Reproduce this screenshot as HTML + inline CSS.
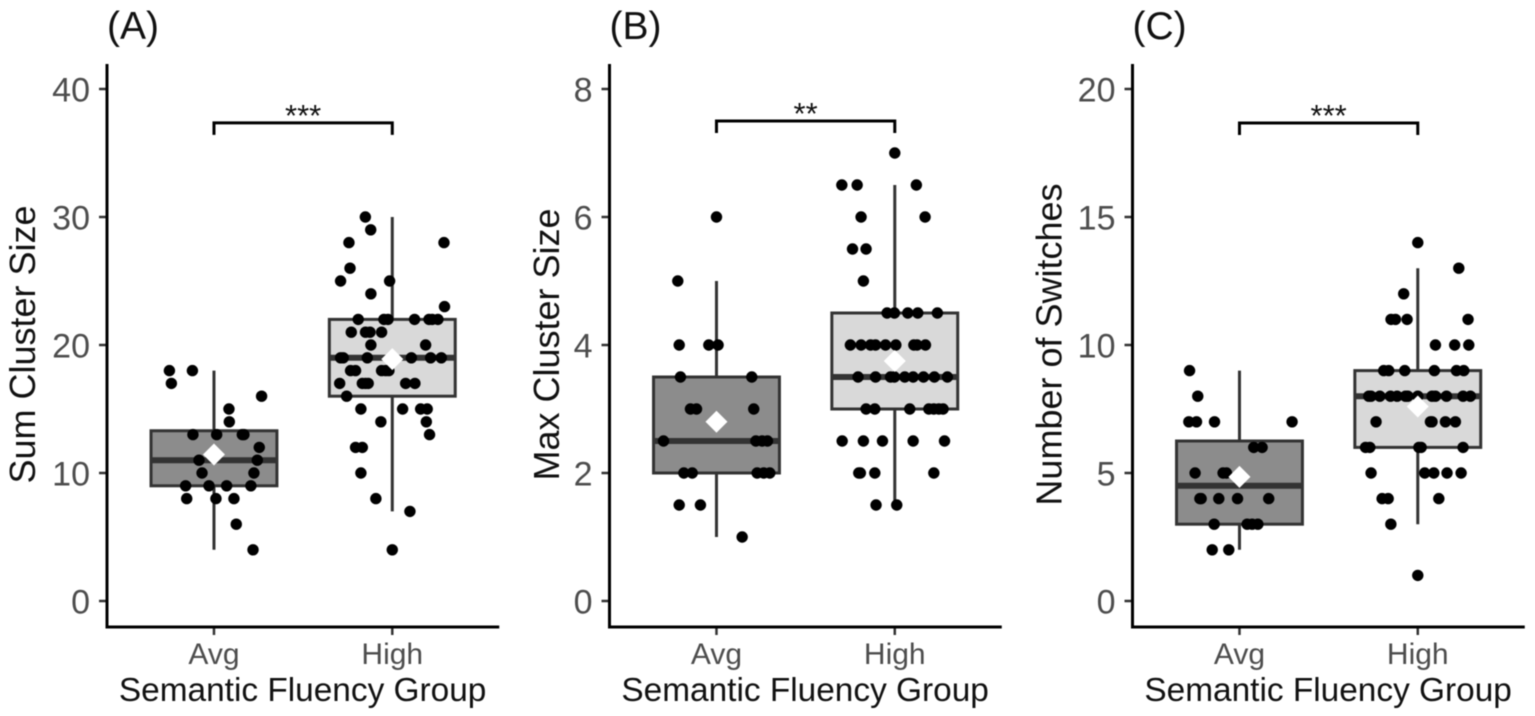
<!DOCTYPE html>
<html lang="en">
<head>
<meta charset="utf-8">
<title>Semantic Fluency Group Comparisons</title>
<style>
html,body{margin:0;padding:0;background:#fff;width:1535px;height:716px;overflow:hidden}
svg{display:block;filter:blur(0.45px)}
text{font-family:"Liberation Sans",Arial,sans-serif}
</style>
</head>
<body>
<svg id="figure" width="1535" height="716" viewBox="0 0 1535 716" xmlns="http://www.w3.org/2000/svg"></svg>
<script>
// Shared categories
const groupLabels = ['Avg', 'High'];
const xAxisTitle = 'Semantic Fluency Group';

// Panel A: Sum Cluster Size
const aTicks = [0, 10, 20, 30, 40];
const aAvgValues = [18,18,17,16,15,14,13,13,13,13,12,11,11,10,10,9,9,9,9,8,8,8,6,4];
const aAvgJitter = [-.250,-.121,-.239,.267,.084,.086,-.118,.015,.159,.168,.254,-.084,.243,-.067,.224,-.159,-.028,.071,.207,-.153,.011,.112,.125,.219];
const aHighValues = [30,29,28,28,26,25,25,24,23,22,22,22,22,22,22,22,21,21,21,21,20,20,19,19,19,19,19,19,18,18,18,18,18,17,17,17,17,17,17,16,15,15,15,15,14,14,13,12,12,10,8,7,4];
const aHighJitter = [-.151,-.121,-.243,.290,-.237,-.290,-.015,-.120,.293,-.191,-.047,-.024,.125,.206,.224,.256,-.230,-.150,-.125,-.060,-.120,.187,-.290,-.275,-.140,.107,.215,.275,-.234,-.206,-.060,-.037,-.019,-.295,-.168,-.150,-.135,.075,.127,-.256,-.176,.058,.159,.196,-.064,.191,.209,-.206,-.168,-.176,-.092,.099,0];
const aAvgBox = [4, 9, 11, 13.3, 18];
const aHighBox = [7, 16, 19, 22, 30];
const aMeans = [11.45, 18.9];

// Panel B: Max Cluster Size
const bTicks = [0, 2, 4, 6, 8];
const bAvgValues = [6,5,4,4,4,3.5,3.5,3,3,3,2.5,2.5,2.5,2.5,2,2,2,2,2,1.5,1.5,1];
const bAvgJitter = [0,-.217,-.209,-.043,.009,-.202,.198,-.146,-.112,.209,-.297,.221,.256,.286,-.183,-.136,.228,.265,.299,-.209,-.090,.144];
const bHighValues = [7,6.5,6.5,6.5,6,6,5.5,5.5,5,4.5,4.5,4.5,4.5,4.5,4,4,4,4,4,4,4,4,4,3.5,3.5,3.5,3.5,3.5,3.5,3.5,3.5,3.5,3,3,3,3,3,3,3,2.5,2.5,2.5,2.5,2.5,2,2,2,2,1.5,1.5];
const bHighJitter = [0,-.297,-.211,.121,-.189,.170,-.237,-.161,-.176,-.043,-.002,.073,.129,.239,-.249,-.189,-.136,-.108,-.052,.006,.107,.125,.172,-.206,-.108,-.024,-.002,.056,.103,.161,.222,.295,-.161,-.112,.084,.191,.219,.247,.271,-.295,-.176,-.069,.103,.279,-.202,-.193,-.112,.219,-.105,.011];
const bAvgBox = [1, 2, 2.5, 3.5, 5];
const bHighBox = [1.5, 3, 3.5, 4.5, 6.5];
const bMeans = [2.8, 3.75];

// Panel C: Number of Switches
const cTicks = [0, 5, 10, 15, 20];
const cAvgValues = [9,8,7,7,7,7,6,6,5,5,5,4,4,4,4,4,3,3,3,3,2,2];
const cAvgJitter = [-.280,-.234,-.284,-.241,-.140,.295,.080,.127,-.249,-.092,-.073,-.222,-.215,-.116,-.011,.164,-.142,.043,.071,.103,-.153,-.060];
const cHighValues = [14,13,12,11,11,11,11,10,10,10,9,9,9,9,9,9,8,8,8,8,8,8,8,8,8,8,8,8,8,7,7,7,7,7,6,6,6,6,6,5,5,5,5,5,4,4,4,3,1];
const cHighJitter = [0,.230,-.079,-.150,-.125,-.060,.282,.099,.207,.286,-.191,-.163,-.073,.093,.217,.258,-.275,-.262,-.213,-.153,-.116,-.069,-.056,0,.080,.099,.161,.254,.295,-.234,.071,.080,.155,.211,-.293,-.269,.006,.019,.254,-.262,.039,.090,.164,.243,-.200,-.166,.118,-.151,0];
const cAvgBox = [2, 3, 4.5, 6.25, 9];
const cHighBox = [3, 6, 8, 9, 13];
const cMeans = [4.85, 7.6];

const panels = [
  {key:'a', title:'(A)', yTitle:'Sum Cluster Size', left:107, yMax:40, ticks:aTicks, avgV:aAvgValues, avgJ:aAvgJitter, highV:aHighValues, highJ:aHighJitter, avgBox:aAvgBox, highBox:aHighBox, means:aMeans, sig:37.35, stars:'***', yTitleX:35},
  {key:'b', title:'(B)', yTitle:'Max Cluster Size', left:609.5, yMax:8, ticks:bTicks, avgV:bAvgValues, avgJ:bAvgJitter, highV:bHighValues, highJ:bHighJitter, avgBox:bAvgBox, highBox:bHighBox, means:bMeans, sig:7.5, stars:'**', yTitleX:559},
  {key:'c', title:'(C)', yTitle:'Number of Switches', left:1132.5, yMax:20, ticks:cTicks, avgV:cAvgValues, avgJ:cAvgJitter, highV:cHighValues, highJ:cHighJitter, avgBox:cAvgBox, highBox:cHighBox, means:cMeans, sig:18.67, stars:'***', yTitleX:1061.5}
];

const svg = document.getElementById('figure');
const NS = 'http://www.w3.org/2000/svg';
const BAND = 178.3, Y_ZERO = 601, Y_SPAN = 512, AXIS_TOP = 64, AXIS_BOTTOM = 627, BOX_HALF = 0.353;

function add(parent, tag, attrs, name, text) {
  const node = document.createElementNS(NS, tag);
  for (const k in attrs) node.setAttribute(k, attrs[k]);
  
  
  if (text !== undefined) node.textContent = text;
  parent.appendChild(node);
  return node;
}

panels.forEach(function (p) {
  const xScale = function (pos) { return p.left + (pos - 0.4) * BAND; };
  const yScale = function (v) { return Y_ZERO - v / p.yMax * Y_SPAN; };
  const g = add(svg, 'g', {}, 'panel-' + p.key);

  add(g, 'text', {x: p.left, y: 39, 'font-size': 39, fill: '#111'}, 'panel-label-' + p.key, p.title);

  // y axis title
  add(g, 'text', {x: 0, y: 0, 'font-size': 36, fill: '#111', 'text-anchor': 'middle',
    transform: 'translate(' + p.yTitleX + ' 344.5) rotate(-90)'}, 'y-axis-title-' + p.key, p.yTitle);

  // y ticks
  p.ticks.forEach(function (t) {
    const y = yScale(t);
    add(g, 'line', {x1: p.left - 8, x2: p.left, y1: y, y2: y, stroke: '#333', 'stroke-width': 2.5}, 'y-tick-' + p.key + '-' + t);
    add(g, 'text', {x: p.left - 17, y: y + 12.3, 'font-size': 34, fill: '#4d4d4d', 'text-anchor': 'end'}, 'y-tick-label-' + p.key + '-' + t, String(t));
  });

  // x ticks
  groupLabels.forEach(function (label, i) {
    const x = xScale(i + 1);
    add(g, 'line', {x1: x, x2: x, y1: AXIS_BOTTOM, y2: AXIS_BOTTOM + 8, stroke: '#333', 'stroke-width': 2.5}, 'x-tick-' + p.key + '-' + label.toLowerCase());
    add(g, 'text', {x: x, y: 664, 'font-size': 30, fill: '#4d4d4d', 'text-anchor': 'middle'}, 'x-tick-label-' + p.key + '-' + label.toLowerCase(), label);
  });
  add(g, 'text', {x: xScale(1.5) - 0.5, y: 701, 'font-size': 33.4, fill: '#111', 'text-anchor': 'middle'}, 'x-axis-title-' + p.key, xAxisTitle);

  // boxes
  [[p.avgBox, '#8c8c8c', 1, 'avg'], [p.highBox, '#d9d9d9', 2, 'high']].forEach(function (b) {
    const v = b[0], fill = b[1], pos = b[2], nm = b[3] + '-' + p.key;
    const cx = xScale(pos);
    add(g, 'line', {x1: cx, x2: cx, y1: yScale(v[0]), y2: yScale(v[4]), stroke: '#333', 'stroke-width': 3}, 'whisker-' + nm);
    add(g, 'rect', {x: xScale(pos - BOX_HALF), y: yScale(v[3]), width: xScale(pos + BOX_HALF) - xScale(pos - BOX_HALF), height: yScale(v[1]) - yScale(v[3]), fill: fill, stroke: '#333', 'stroke-width': 3}, 'box-' + nm);
    add(g, 'line', {x1: xScale(pos - BOX_HALF), x2: xScale(pos + BOX_HALF), y1: yScale(v[2]), y2: yScale(v[2]), stroke: '#333', 'stroke-width': 6}, 'median-' + nm);
  });

  // points
  [[p.avgV, p.avgJ, 1, 'avg'], [p.highV, p.highJ, 2, 'high']].forEach(function (s) {
    s[0].forEach(function (v, i) {
      add(g, 'circle', {cx: xScale(s[2] + s[1][i]), cy: yScale(v), r: 5.7, fill: '#000'}, 'point-' + s[3] + '-' + p.key);
    });
  });

  // means
  p.means.forEach(function (m, i) {
    const cx = xScale(i + 1), cy = yScale(m);
    add(g, 'polygon', {points: (cx - 11) + ',' + cy + ' ' + cx + ',' + (cy - 11) + ' ' + (cx + 11) + ',' + cy + ' ' + cx + ',' + (cy + 11), fill: '#fff'}, 'mean-diamond-' + groupLabels[i].toLowerCase() + '-' + p.key);
  });

  // significance bracket
  const sy = yScale(p.sig), x1 = xScale(1), x2 = xScale(2);
  add(g, 'path', {d: 'M' + x1 + ' ' + (sy + 12) + 'V' + sy + 'H' + x2 + 'V' + (sy + 12), fill: 'none', stroke: '#000', 'stroke-width': 3}, 'significance-bracket-' + p.key);
  add(g, 'text', {x: xScale(1.5), y: sy + 3, 'font-size': 31, fill: '#111', 'text-anchor': 'middle'}, 'significance-stars-' + p.key, p.stars);

  // axes
  add(g, 'line', {x1: p.left, x2: p.left, y1: AXIS_TOP, y2: AXIS_BOTTOM + 1.5, stroke: '#000', 'stroke-width': 3}, 'y-axis-line-' + p.key);
  add(g, 'line', {x1: p.left, x2: xScale(2.6), y1: AXIS_BOTTOM, y2: AXIS_BOTTOM, stroke: '#000', 'stroke-width': 3}, 'x-axis-line-' + p.key);
});
</script>
</body>
</html>
